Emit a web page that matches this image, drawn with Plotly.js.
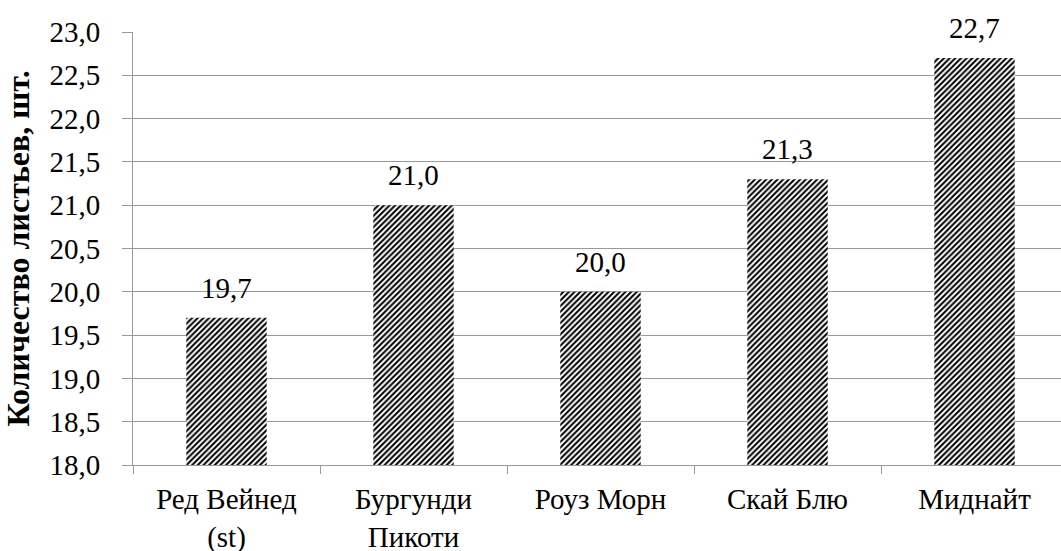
<!DOCTYPE html>
<html>
<head>
<meta charset="utf-8">
<script src="https://cdn.plot.ly/plotly-3.0.1.min.js"></script>
<style>
  html, body { margin: 0; padding: 0; overflow: hidden; background: #fff; }
  #chart { width: 1075px; height: 551px; }
</style>
</head>
<body>
<div id="chart"></div>
<script>
// -------------------- DATA --------------------
const varieties = ["Ред Вейнед<br>(st)", "Бургунди<br>Пикоти", "Роуз Морн", "Скай Блю", "Миднайт"];
const leafCount = [19.7, 21.0, 20.0, 21.3, 22.7];
const yTicks = [18.0, 18.5, 19.0, 19.5, 20.0, 20.5, 21.0, 21.5, 22.0, 22.5, 23.0];

// labels with comma decimal, as in the original
const labels = leafCount.map(v => v.toFixed(1).replace(".", ","));

// -------------------- PLOT --------------------
function draw() {
    const trace = {
        type: "bar",
        x: varieties,
        y: leafCount,
        width: 0.43,
        marker: {
            color: "#fff",
            line: { width: 0 },
            pattern: { shape: "/", fgcolor: "#000", bgcolor: "#fff", size: 4, solidity: 0.5 }
        },
        hoverinfo: "skip"
    };

    // value labels above bars
    const annotations = varieties.map((c, i) => ({
        x: c,
        y: leafCount[i],
        text: labels[i],
        showarrow: false,
        yanchor: "bottom",
        yshift: 12,
        font: { size: 29 }
    }));

    const layout = {
        width: 1075,
        height: 551,
        margin: { l: 133, r: 7, t: 32, b: 86 },
        paper_bgcolor: "#fff",
        plot_bgcolor: "#fff",
        separators: ",.",
        showlegend: false,
        font: { family: "Liberation Serif", size: 29, color: "#000" },
        annotations: annotations,
        xaxis: {
            tickson: "boundaries",
            ticks: "outside",
            ticklen: 8,
            tickcolor: "#999",
            ticklabelstandoff: 8,
            showline: true,
            linecolor: "#999",
            linewidth: 1,
            showgrid: false
        },
        yaxis: {
            range: [18, 23],
            tickvals: yTicks,
            tickformat: ".1f",
            ticks: "outside",
            ticklen: 10,
            tickcolor: "#999",
            ticklabelstandoff: 16,
            showline: true,
            linecolor: "#999",
            linewidth: 1,
            showgrid: true,
            gridcolor: "#999",
            gridwidth: 1,
            zeroline: false,
            title: {
                text: "<b>Количество листьев, шт.</b>",
                font: { size: 32 },
                standoff: 10
            }
        }
    };

    return Plotly.newPlot("chart", [trace], layout, { displayModeBar: false });
}

// draw, then force a style pass on the labels and redraw so the serif face sticks
draw().then(() => {
    document.querySelectorAll("#chart text").forEach(t => getComputedStyle(t).fontFamily);
    document.fonts.check("29px 'Liberation Serif'");
    setTimeout(() => { draw(); }, 50);
});
</script>
</body>
</html>
